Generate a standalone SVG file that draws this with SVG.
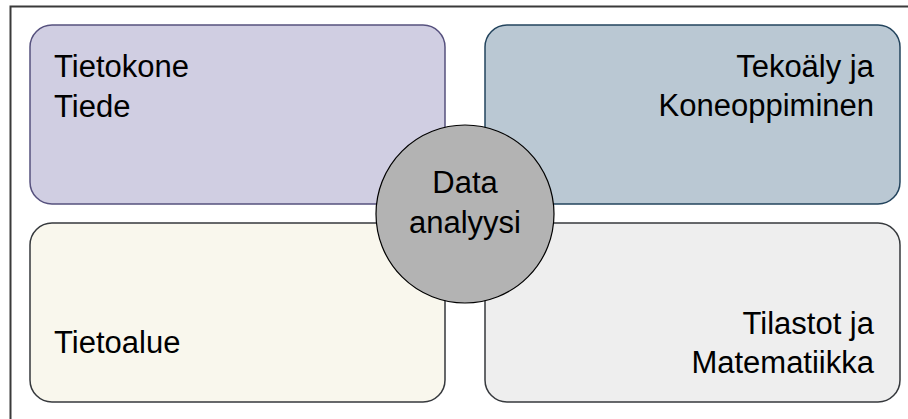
<svg xmlns="http://www.w3.org/2000/svg" width="908" height="419" viewBox="0 0 908 419">
<style>
  .box { stroke-width: 1.5; }
  .t { font-family: "Liberation Sans", Arial, sans-serif; font-size: 31px; fill: #000; }
  .r { text-anchor: end; }
  .c { text-anchor: middle; }
</style>
<rect x="0" y="0" width="908" height="419" fill="#ffffff"/>
<rect id="frame" x="10.5" y="6.5" width="1000" height="1000" fill="none" stroke="#3a3a3a" stroke-width="2"/>
<g id="connectors"/>
<g id="tietokone">
  <rect class="box" x="30" y="25" width="415" height="179" rx="22" fill="#d0cee2" stroke="#56517e"/>
  <text class="t" x="54" y="77">Tietokone</text>
  <text class="t" x="54" y="117">Tiede</text>
</g>
<g id="tekoaly">
  <rect class="box" x="485" y="25" width="415" height="179" rx="22" fill="#bac8d3" stroke="#23445d"/>
  <text class="t r" x="874" y="77">Tekoäly ja</text>
  <text class="t r" x="874" y="116">Koneoppiminen</text>
</g>
<g id="tietoalue">
  <rect class="box" x="30" y="223" width="415" height="179" rx="22" fill="#f9f7ed" stroke="#36393d"/>
  <text class="t" x="54" y="353">Tietoalue</text>
</g>
<g id="tilastot">
  <rect class="box" x="485" y="223" width="415" height="179" rx="22" fill="#eeeeee" stroke="#36393d"/>
  <text class="t r" x="874" y="334">Tilastot ja</text>
  <text class="t r" x="874" y="373">Matematiikka</text>
</g>
<g id="data-analyysi">
  <circle cx="465" cy="214" r="89" fill="#b3b3b3" stroke="#000000" stroke-width="1.2"/>
  <text class="t c" x="465" y="193">Data</text>
  <text class="t c" x="465" y="233">analyysi</text>
</g>
</svg>
